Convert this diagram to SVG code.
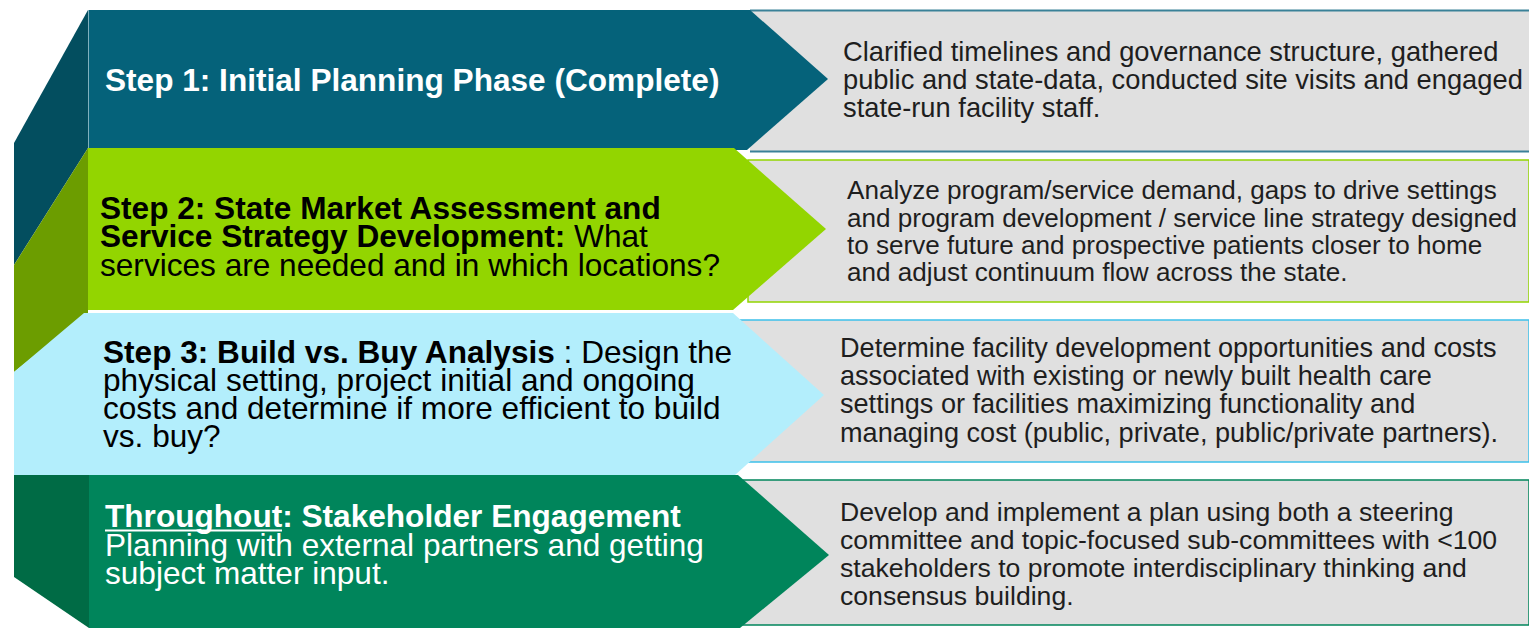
<svg xmlns="http://www.w3.org/2000/svg" width="1529" height="628" viewBox="0 0 1529 628">
<style>
.l{font-family:"Liberation Sans",Arial,sans-serif;font-size:31.6px}
.r{font-family:"Liberation Sans",Arial,sans-serif;font-size:26.6px;fill:#1e1e1e}
.b{font-weight:bold}
.w{fill:#ffffff}
.k{fill:#000000}
.gray{fill:#e0e0e0}
</style>
<rect width="1529" height="628" fill="#ffffff"/>
<g id="row1">
<rect class="gray" x="750" y="10" width="779" height="142"/>
<line x1="750" y1="10.5" x2="1529" y2="10.5" stroke="#3a8198" stroke-width="2"/>
<line x1="750" y1="151.5" x2="1529" y2="151.5" stroke="#3a8198" stroke-width="2"/>
<polygon points="88,10 14,143 14,265 88,148" fill="#034e5f"/>
<polygon points="88,10 750,10 828,79 747,150 88,150" fill="#05627a"/>
<line x1="88.5" y1="10" x2="88.5" y2="148" stroke="#7fb0bd" stroke-width="1"/>
<text class="l b w" x="105" y="91">Step 1: Initial Planning Phase (Complete)</text>
<text class="r" style="font-size:27.3px"><tspan x="843" y="61">Clarified timelines and governance structure, gathered</tspan><tspan x="843" y="89">public and state-data, conducted site visits and engaged</tspan><tspan x="843" y="117">state-run facility staff.</tspan></text>
</g>
<g id="row2">
<rect class="gray" x="748" y="160" width="781" height="142" stroke="#93d500" stroke-width="1.5"/>
<polygon points="88,148 88,313 14,372 14,265" fill="#6c9d00"/>
<polygon points="88,148 734,148 826,229 733,310 88,310" fill="#93d500"/>
<text class="l k"><tspan class="b" x="100" y="219">Step 2: State Market Assessment and</tspan><tspan class="b" x="100" y="247">Service Strategy Development:</tspan><tspan> What</tspan><tspan x="100" y="276">services are needed and in which locations?</tspan></text>
<text class="r" style="font-size:26.1px"><tspan x="847" y="199">Analyze program/service demand, gaps to drive settings</tspan><tspan x="847" y="227">and program development / service line strategy designed</tspan><tspan x="847" y="254">to serve future and prospective patients closer to home</tspan><tspan x="847" y="281">and adjust continuum flow across the state.</tspan></text>
</g>
<g id="row3">
<rect class="gray" x="740" y="320" width="789" height="142" stroke="#3cc0ea" stroke-width="1.5"/>
<polygon points="14,372 84,313 733,313 824,395 735,475 14,475" fill="#b3eefc"/>
<text class="l k"><tspan class="b" x="103" y="363">Step 3: Build vs. Buy Analysis</tspan><tspan> : Design the</tspan><tspan x="103" y="391">physical setting, project initial and ongoing</tspan><tspan x="103" y="419">costs and determine if more efficient to build</tspan><tspan x="103" y="447">vs. buy?</tspan></text>
<text class="r" style="font-size:27.1px"><tspan x="840" y="357">Determine facility development opportunities and costs</tspan><tspan x="840" y="385">associated with existing or newly built health care</tspan><tspan x="840" y="413">settings or facilities maximizing functionality and</tspan><tspan x="840" y="442">managing cost (public, private, public/private partners).</tspan></text>
</g>
<g id="row4">
<rect class="gray" x="743" y="480" width="786" height="145" stroke="#00855b" stroke-width="1.5"/>
<polygon points="14,475 89,475 89,628 14,577" fill="#006b45"/>
<polygon points="89,475 738,475 829,555 740,628 89,628" fill="#00855b"/>
<text class="l w"><tspan class="b" x="105" y="527">Throughout</tspan><tspan class="b">: Stakeholder Engagement</tspan><tspan x="105" y="556">Planning with external partners and getting</tspan><tspan x="105" y="584">subject matter input.</tspan></text>
<line x1="105" y1="530.5" x2="282" y2="530.5" stroke="#ffffff" stroke-width="2"/>
<text class="r"><tspan x="840" y="521">Develop and implement a plan using both a steering</tspan><tspan x="840" y="549">committee and topic-focused sub-committees with &lt;100</tspan><tspan x="840" y="577">stakeholders to promote interdisciplinary thinking and</tspan><tspan x="840" y="605">consensus building.</tspan></text>
</g>
<g id="connectors"></g>
</svg>
